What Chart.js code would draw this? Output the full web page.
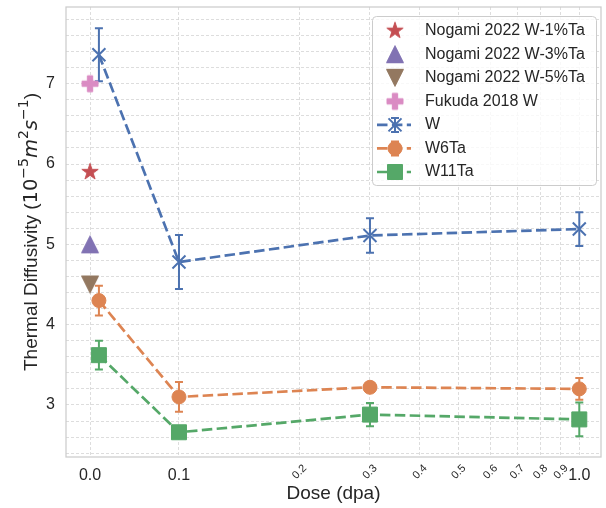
<!DOCTYPE html>
<html><head><meta charset="utf-8">
<script src="https://cdn.jsdelivr.net/npm/chart.js@4.4.1/dist/chart.umd.min.js"></script>
<style>html,body{margin:0;padding:0;background:#fff;}canvas{display:block;}</style>
</head><body>
<canvas id="c" width="606" height="508"></canvas>
<script>
// ---------------- data ----------------
const DOSE = [0.01, 0.1, 0.3, 1.0];
const W = [7.36, 4.78, 5.11, 5.19];
const W_ERR = [0.33, 0.335, 0.215, 0.21];
const W6TA = [4.30, 3.10, 3.22, 3.20];
const W6TA_ERR = [0.185, 0.185, 0.05, 0.135];
const W11TA = [3.62, 2.66, 2.88, 2.82];
const W11TA_ERR = [0.18, 0.03, 0.145, 0.21];
const REF_DOSE = [0.0];
const NOGAMI_1 = [5.90];
const NOGAMI_3 = [5.00];
const NOGAMI_5 = [4.50];
const FUKUDA = [7.00];
const X_MAJOR = [0.0, 0.1, 1.0];
const X_MAJOR_LABELS = ['0.0', '0.1', '1.0'];
const X_MINOR = [0.2, 0.3, 0.4, 0.5, 0.6, 0.7, 0.8, 0.9];
const X_MINOR_LABELS = ['0.2', '0.3', '0.4', '0.5', '0.6', '0.7', '0.8', '0.9'];
const Y_LABELS = [3, 4, 5, 6, 7];
const LABELS = ['Nogami 2022 W-1%Ta', 'Nogami 2022 W-3%Ta', 'Nogami 2022 W-5%Ta', 'Fukuda 2018 W', 'W', 'W6Ta', 'W11Ta'];

// ---------------- style ----------------
const FONT = '"Liberation Sans", Arial, sans-serif';
const TXT = '#262626';
const C = {blue:'#4C72B0', orange:'#DD8452', green:'#55A868', red:'#C44E52', purple:'#8172B3', brown:'#937860', pink:'#DA8BC3'};

// ---------------- symlog scale ----------------
const LINTHRESH = 0.1, LINSCALE = 0.2 / (1 - 0.1);
function fwd(v){ const a = Math.abs(v); return a <= LINTHRESH ? v / LINTHRESH * LINSCALE : Math.sign(v) * (LINSCALE + Math.log10(a / LINTHRESH)); }
function inv(t){ const a = Math.abs(t); return a <= LINSCALE ? t / LINSCALE * LINTHRESH : Math.sign(t) * LINTHRESH * Math.pow(10, a - LINSCALE); }
class SymLogScale extends Chart.Scale {
  parse(raw){ return raw == null ? null : +raw; }
  determineDataLimits(){
    const mm = this.getMinMax(true);
    this.min = Number.isFinite(this.options.min) ? this.options.min : mm.min;
    this.max = Number.isFinite(this.options.max) ? this.options.max : mm.max;
  }
  buildTicks(){ return (this.options.tickValues || []).map(v => ({value: v})); }
  configure(){ super.configure(); this._s = fwd(this.min); this._e = fwd(this.max); }
  getPixelForValue(v){ return this.getPixelForDecimal((fwd(v) - this._s) / (this._e - this._s)); }
  getValueForPixel(p){ return inv(this._s + this.getDecimalForPixel(p) * (this._e - this._s)); }
  getPixelForTick(i){ return this.getPixelForValue(this.ticks[i].value); }
  getLabelForValue(v){ return String(v); }
}
SymLogScale.id = 'symlog';
SymLogScale.defaults = {};
Chart.register(SymLogScale);

// ---------------- marker images ----------------
function marker(size, color, path){
  const c = document.createElement('canvas'); c.width = c.height = size;
  const g = c.getContext('2d'); g.translate(size/2, size/2);
  g.beginPath(); path(g); g.closePath(); g.fillStyle = color; g.fill();
  g.lineWidth = 1; g.strokeStyle = color; g.stroke();
  return c;
}
const starImg = marker(22, C.red, g => { const R = 8.6, r = R * 0.382; for (let k = 0; k < 10; k++){ const a = -Math.PI/2 + k*Math.PI/5, rr = k%2 ? r : R; g.lineTo(rr*Math.cos(a), rr*Math.sin(a)); } });
const triUpImg = marker(22, C.purple, g => { const h = 8.5; g.moveTo(0,-h); g.lineTo(h,h); g.lineTo(-h,h); });
const triDnImg = marker(22, C.brown, g => { const h = 8.5; g.moveTo(0,h); g.lineTo(h,-h); g.lineTo(-h,-h); });
const plusImg = marker(22, C.pink, g => { const s = 8, a = s/3; [[-a,-s],[a,-s],[a,-a],[s,-a],[s,a],[a,a],[a,s],[-a,s],[-a,a],[-s,a],[-s,-a],[-a,-a]].forEach(p => g.lineTo(p[0], p[1])); });

const pts = (xs, ys) => xs.map((x, i) => ({x, y: ys[i]}));
function refSet(i, ys, img){
  return {label: LABELS[i], data: pts(REF_DOSE, ys), showLine: false, pointStyle: img, pointRadius: 9, order: -i, legendKind: 'point'};
}
function serSet(i, ys, errs, color, style, radius, bw){
  return {label: LABELS[i], data: pts(DOSE, ys), errors: errs, showLine: true, borderColor: color, backgroundColor: color,
    borderWidth: 2.7, borderDash: [10.5, 4.4], tension: 0, pointStyle: style, pointRadius: radius, pointBorderWidth: bw,
    pointBorderColor: color, pointBackgroundColor: color, order: -i, legendKind: 'line'};
}
const datasets = [
  refSet(0, NOGAMI_1, starImg),
  refSet(1, NOGAMI_3, triUpImg),
  refSet(2, NOGAMI_5, triDnImg),
  refSet(3, FUKUDA, plusImg),
  serSet(4, W, W_ERR, C.blue, 'crossRot', 9.2, 2),
  serSet(5, W6TA, W6TA_ERR, C.orange, 'circle', 7, 1),
  serSet(6, W11TA, W11TA_ERR, C.green, 'rect', 10.6, 1)
];

function errBar(ctx, x, y1, y2, color){
  ctx.save(); ctx.strokeStyle = color; ctx.lineWidth = 2; ctx.setLineDash([]);
  ctx.beginPath(); ctx.moveTo(x, y1); ctx.lineTo(x, y2);
  ctx.moveTo(x-4, y1); ctx.lineTo(x+4, y1); ctx.moveTo(x-4, y2); ctx.lineTo(x+4, y2); ctx.stroke(); ctx.restore();
}

const decor = {
  id: 'decor',
  beforeDatasetsDraw(chart){
    const ctx = chart.ctx, a = chart.chartArea;
    ctx.save(); ctx.strokeStyle = '#cccccc'; ctx.lineWidth = 1.25;
    ctx.strokeRect(a.left, a.top, a.right - a.left, a.bottom - a.top); ctx.restore();
    const ys = chart.scales.y;
    chart.data.datasets.forEach((ds, i) => {
      if (!ds.errors) return;
      const meta = chart.getDatasetMeta(i);
      meta.data.forEach((p, j) => {
        const v = ds.data[j].y, e = ds.errors[j];
        errBar(ctx, p.x, ys.getPixelForValue(v + e), ys.getPixelForValue(v - e), ds.borderColor);
      });
    });
  },
  afterDraw(chart){
    const ctx = chart.ctx, a = chart.chartArea, xs = chart.scales.x;
    // minor x tick labels
    ctx.save(); ctx.fillStyle = TXT; ctx.font = '11px ' + FONT; ctx.textAlign = 'center'; ctx.textBaseline = 'middle';
    X_MINOR.forEach((v, i) => {
      const x = xs.getPixelForValue(v);
      ctx.save(); ctx.translate(x, 472); ctx.rotate(-Math.PI/4); ctx.fillText(X_MINOR_LABELS[i], 0, 0); ctx.restore();
    });
    ctx.restore();
    // x title
    ctx.save(); ctx.fillStyle = TXT; ctx.font = '19px ' + FONT; ctx.textAlign = 'center'; ctx.textBaseline = 'middle';
    ctx.fillText('Dose (dpa)', (a.left + a.right)/2, 494); ctx.restore();
    // y title with math parts
    const segs = [
      {t: 'Thermal Diffusivity (', f: '19px ' + FONT, dy: 0},
      {t: '10', f: '19.5px "DejaVu Sans"', dy: 0},
      {t: '\u22125', f: '14px "DejaVu Sans"', dy: -8.5},
      {t: 'm', f: 'italic 19.5px "DejaVu Sans"', dy: 0},
      {t: '2', f: '14px "DejaVu Sans"', dy: -8.5},
      {t: 's', f: 'italic 19.5px "DejaVu Sans"', dy: 0},
      {t: '\u22121', f: '14px "DejaVu Sans"', dy: -8.5},
      {t: ')', f: '19px ' + FONT, dy: 0}
    ];
    ctx.save(); ctx.fillStyle = TXT; ctx.textBaseline = 'alphabetic'; ctx.textAlign = 'left';
    let total = 0; segs.forEach(s => { ctx.font = s.f; s.w = ctx.measureText(s.t).width; total += s.w; });
    ctx.translate(30, (a.top + a.bottom)/2); ctx.rotate(-Math.PI/2);
    let x0 = -total/2;
    segs.forEach(s => { ctx.font = s.f; ctx.fillText(s.t, x0, 6.8 + s.dy); x0 += s.w; });
    ctx.restore();
    // legend
    const L = {x: 372, y: 16, w: 224, h: 169};
    ctx.save();
    ctx.beginPath(); ctx.roundRect(L.x + 0.5, L.y + 0.5, L.w, L.h, 4);
    ctx.fillStyle = 'rgba(255,255,255,0.8)'; ctx.fill(); ctx.strokeStyle = '#cccccc'; ctx.lineWidth = 1; ctx.stroke();
    chart.data.datasets.forEach((ds, i) => {
      const y = 30.7 + i * 23.55, mx = 395;
      if (ds.legendKind === 'line'){
        ctx.save(); ctx.strokeStyle = ds.borderColor; ctx.lineWidth = ds.borderWidth; ctx.setLineDash(ds.borderDash);
        ctx.beginPath(); ctx.moveTo(377, y); ctx.lineTo(411, y); ctx.stroke(); ctx.restore();
        errBar(ctx, mx, y - 7, y + 7, ds.borderColor);
        ctx.save(); ctx.fillStyle = ds.pointBackgroundColor; ctx.strokeStyle = ds.pointBorderColor; ctx.lineWidth = ds.pointBorderWidth; ctx.setLineDash([]);
        Chart.helpers.drawPoint(ctx, {pointStyle: ds.pointStyle, radius: ds.pointRadius, rotation: 0, borderWidth: ds.pointBorderWidth}, mx, y);
        ctx.restore();
      } else {
        Chart.helpers.drawPoint(ctx, {pointStyle: ds.pointStyle, radius: ds.pointRadius, rotation: 0, borderWidth: 0}, mx, y);
      }
      ctx.fillStyle = TXT; ctx.font = '16px ' + FONT; ctx.textAlign = 'left'; ctx.textBaseline = 'middle';
      ctx.fillText(ds.label, 425, y);
    });
    ctx.restore();
  }
};

new Chart(document.getElementById('c'), {
  type: 'line',
  data: {datasets},
  options: {
    responsive: false, animation: false, devicePixelRatio: 1,
    layout: {autoPadding: false, padding: {top: 7, right: 5, left: 0, bottom: 0}},
    plugins: {legend: {display: false}, tooltip: {enabled: false}},
    scales: {
      x: {
        type: 'symlog', min: -0.027, max: 1.133, tickValues: X_MAJOR.concat(X_MINOR),
        ticks: {autoSkip: false, maxRotation: 0, minRotation: 0, padding: 9, color: TXT, font: {family: FONT, size: 16},
          callback: v => { const i = X_MAJOR.indexOf(v); return i >= 0 ? X_MAJOR_LABELS[i] : ''; }},
        grid: {color: '#d4d4d4', lineWidth: 0.8, drawTicks: false},
        border: {display: false, dash: [3, 2]},
        afterFit: s => { s.height = 51; s.paddingLeft = 0; s.paddingRight = 0; s.paddingTop = 0; s.paddingBottom = 0; }
      },
      y: {
        type: 'linear', min: 2.352, max: 7.955,
        ticks: {stepSize: 0.2, includeBounds: false, autoSkip: false, padding: 11, color: TXT, font: {family: FONT, size: 16},
          callback: v => { const t = Y_LABELS.find(k => Math.abs(k - v) < 1e-6); return t === undefined ? '' : String(t); }},
        grid: {color: '#d4d4d4', lineWidth: 0.8, drawTicks: false},
        border: {display: false, dash: [3, 2]},
        afterFit: s => { s.width = 66; s.paddingLeft = 0; s.paddingRight = 0; s.paddingTop = 0; s.paddingBottom = 0; }
      }
    }
  },
  plugins: [decor]
});
</script>
</body></html>
